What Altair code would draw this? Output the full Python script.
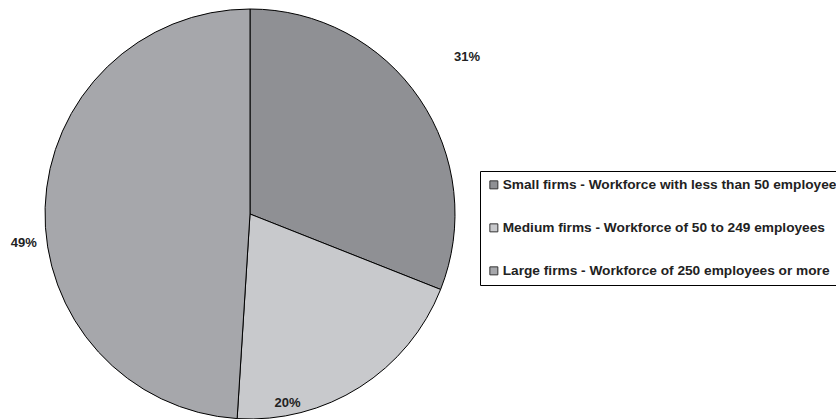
import altair as alt
import pandas as pd
import math

categories = [
    "Small firms - Workforce with less than 50 employees",
    "Medium firms - Workforce of 50 to 249 employees",
    "Large firms - Workforce of 250 employees or more",
]
shares = [31, 20, 49]
labels = ["31%", "20%", "49%"]
colors = ["#8f9094", "#c8c9cc", "#a6a7ab"]

df = pd.DataFrame({"cat": categories, "share": shares, "label": labels, "ord": [0, 1, 2]})

theta_scale = alt.Scale(domain=[0, 100], range=[0, 2 * math.pi])

pie = alt.Chart(df).mark_arc(radius=205, stroke="#000000", strokeWidth=1).encode(
    theta=alt.Theta("share:Q", stack=True),
    order=alt.Order("ord:Q"),
    x=alt.value(250),
    y=alt.value(214),
    color=alt.Color(
        "cat:N",
        scale=alt.Scale(domain=categories, range=colors),
        sort=categories,
        legend=alt.Legend(
            title=None,
            orient="none",
            legendX=480,
            legendY=171,
            direction="vertical",
            symbolType="square",
            symbolSize=64,
            symbolStrokeColor="#333333",
            symbolStrokeWidth=1,
            symbolOpacity=1,
            labelFont="Liberation Sans",
            labelFontWeight="bold",
            labelFontSize=13.7,
            labelColor="#222222",
            labelLimit=0,
            labelOffset=2,
            rowPadding=28,
            padding=7,
            strokeColor="#000000",
            fillColor="#ffffff",
            cornerRadius=0,
        ),
    ),
)

lab_base = (
    alt.Chart(df)
    .transform_window(cum="sum(share)", sort=[alt.SortField("ord")])
    .transform_calculate(mid="datum.cum - datum.share / 2")
    .encode(
        theta=alt.Theta("mid:Q", scale=theta_scale),
        x=alt.value(250),
        y=alt.value(214),
        text="label:N",
    )
)

text_style = dict(font="Liberation Sans", fontWeight="bold", fontSize=13, color="#222222")

lab_small = lab_base.mark_text(radius=268, thetaOffset=-0.03, **text_style).transform_filter(alt.datum.ord == 0)
lab_medium = lab_base.mark_text(radius=193, thetaOffset=0.37, **text_style).transform_filter(alt.datum.ord == 1)
lab_large = lab_base.mark_text(radius=228, thetaOffset=-0.16, **text_style).transform_filter(alt.datum.ord == 2)

chart = (
    alt.layer(pie, lab_small, lab_medium, lab_large)
    .properties(width=836, height=419, autosize=alt.AutoSizeParams(type="none"), padding=0)
    .configure_view(stroke=None)
)

chart.save("out.html", embed_options={"renderer": "svg", "actions": False})
